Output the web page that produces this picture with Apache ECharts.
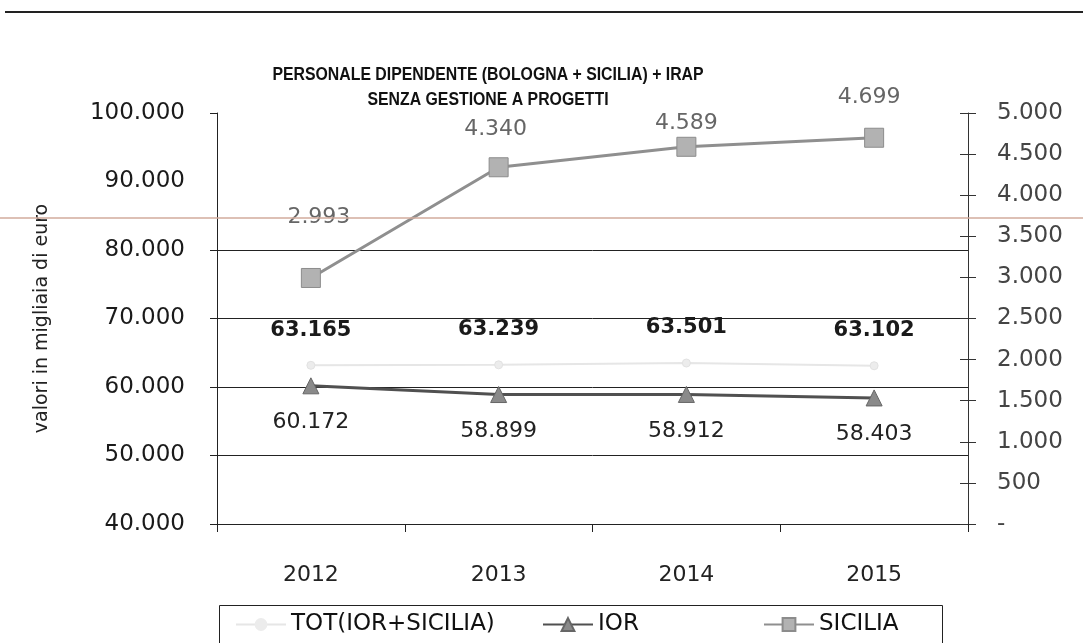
<!DOCTYPE html>
<html>
<head>
<meta charset="utf-8">
<title>Personale dipendente</title>
<script src="https://cdn.jsdelivr.net/npm/echarts@6/dist/echarts.min.js"></script>
<style>
    html, body { margin: 0; padding: 0; background: #fff; }
    #main { width: 1083px; height: 643px; }
</style>
</head>
<body>
<div id="main"></div>
<script>
    // dati
    var years = ['2012', '2013', '2014', '2015'];
    var totValues = [63165, 63239, 63501, 63102];
    var iorValues = [60172, 58899, 58912, 58403];
    var siciliaValues = [2993, 4340, 4589, 4699];
    var leftTicks = [40000, 50000, 60000, 70000, 80000, 100000];

    var numFont = 'DejaVu Sans';

    // separatore migliaia con il punto
    function fmt(v) {
        return String(v).replace(/\B(?=(\d{3})+(?!\d))/g, '.');
    }

    // etichette SICILIA spostate a mano come nell'originale
    var sicOffsets = [[8, -35], [-3, -12], [0, 2], [-5, -14]];
    var siciliaData = siciliaValues.map(function (v, i) {
        return { value: v, label: { offset: sicOffsets[i] } };
    });

    function legendItem(name, left) {
        return {
            data: [name], left: left, top: 608,
            itemWidth: 50, itemHeight: 16,
            textStyle: { fontFamily: numFont, fontSize: 23, color: '#111' }
        };
    }

    var myChart = echarts.init(document.getElementById('main'));
    var option = {
        animation: false,
        backgroundColor: '#fff',
        grid: { left: 217, right: 115, top: 113, bottom: 119 },
        legend: [
            legendItem('TOT(IOR+SICILIA)', 230),
            legendItem('IOR', 537),
            legendItem('SICILIA', 758)
        ],
        xAxis: {
            type: 'category',
            data: years,
            boundaryGap: true,
            axisLine: { lineStyle: { color: '#222', width: 1 } },
            axisTick: { show: true, length: 8, lineStyle: { color: '#222' } },
            axisLabel: { margin: 40, fontFamily: numFont, fontSize: 22, color: '#222' },
            splitLine: { show: false }
        },
        yAxis: [
            {
                type: 'value',
                min: 40000, max: 100000, interval: 10000,
                position: 'left',
                name: 'valori in migliaia di euro',
                nameLocation: 'middle',
                nameGap: 165,
                nameRotate: 90,
                nameTextStyle: { fontFamily: numFont, fontSize: 19, color: '#222' },
                axisLine: { show: true, lineStyle: { color: '#222' } },
                axisTick: { show: true, length: 7, customValues: leftTicks, lineStyle: { color: '#222' } },
                axisLabel: { margin: 32, fontFamily: numFont, fontSize: 23, color: '#1a1a1a', formatter: fmt },
                splitLine: {
                    show: true,
                    lineStyle: { color: ['#222', '#222', '#222', '#222', '#222', 'rgba(0,0,0,0)', '#222'], width: 1 }
                }
            },
            {
                type: 'value',
                min: 0, max: 5000, interval: 500,
                position: 'right',
                axisLine: { show: true, lineStyle: { color: '#333' } },
                axisTick: { show: true, length: 8, lineStyle: { color: '#333' } },
                axisLabel: {
                    margin: 29, fontFamily: numFont, fontSize: 23, color: '#444',
                    formatter: function (v) { return v === 0 ? '-' : fmt(v); }
                },
                splitLine: { show: false }
            },
            {
                // solo per le tacche interne dell'asse destro
                type: 'value',
                min: 0, max: 5000, interval: 500,
                position: 'right',
                axisLine: { show: false },
                axisTick: { show: true, inside: true, length: 8, lineStyle: { color: '#333' } },
                axisLabel: { show: false },
                splitLine: { show: false }
            }
        ],
        series: [
            {
                name: 'TOT(IOR+SICILIA)',
                type: 'line',
                yAxisIndex: 0,
                data: totValues,
                symbol: 'circle',
                symbolSize: 8,
                itemStyle: { color: '#ececec', borderColor: '#e2e2e2' },
                lineStyle: { color: '#e6e6e6', width: 2 },
                label: {
                    show: true, position: 'top', distance: 20,
                    fontFamily: numFont, fontWeight: 'bold', fontSize: 21, color: '#1a1a1a',
                    formatter: function (p) { return fmt(p.value); }
                },
                z: 2
            },
            {
                name: 'IOR',
                type: 'line',
                yAxisIndex: 0,
                data: iorValues,
                symbol: 'triangle',
                symbolSize: 16,
                itemStyle: { color: '#8a8a8a', borderColor: '#666', borderWidth: 1 },
                lineStyle: { color: '#505050', width: 3 },
                label: {
                    show: true, position: 'bottom', distance: 17,
                    fontFamily: numFont, fontSize: 22, color: '#222',
                    formatter: function (p) { return fmt(p.value); }
                },
                z: 3
            },
            {
                name: 'SICILIA',
                type: 'line',
                yAxisIndex: 1,
                data: siciliaData,
                symbol: 'rect',
                symbolSize: 19,
                itemStyle: { color: '#b2b2b2', borderColor: '#8c8c8c', borderWidth: 1 },
                lineStyle: { color: '#8f8f8f', width: 3 },
                label: {
                    show: true, position: 'top', distance: 5,
                    fontFamily: numFont, fontSize: 22, color: '#666',
                    formatter: function (p) { return fmt(p.value); }
                },
                z: 3
            }
        ],
        graphic: [
            // titolo (carattere stretto)
            {
                type: 'text', x: 488, y: 75, scaleX: 0.88, silent: true,
                style: {
                    text: 'PERSONALE DIPENDENTE (BOLOGNA + SICILIA) + IRAP',
                    fontFamily: 'Liberation Sans', fontWeight: 'bold', fontSize: 18,
                    fill: '#111', align: 'center', verticalAlign: 'middle'
                }
            },
            {
                type: 'text', x: 488, y: 100, scaleX: 0.88, silent: true,
                style: {
                    text: 'SENZA GESTIONE A PROGETTI',
                    fontFamily: 'Liberation Sans', fontWeight: 'bold', fontSize: 18,
                    fill: '#111', align: 'center', verticalAlign: 'middle'
                }
            },
            // riquadro della legenda
            {
                type: 'rect', left: 217, top: 603, silent: true,
                shape: { width: 723, height: 60 },
                style: { fill: 'none', stroke: '#222', lineWidth: 1 }
            },
            // righe del foglio scansionato
            {
                type: 'line', silent: true,
                shape: { x1: 5, y1: 12, x2: 1083, y2: 12 },
                style: { stroke: '#222', lineWidth: 2 }
            },
            {
                type: 'line', silent: true, z: 100,
                shape: { x1: 0, y1: 218, x2: 1083, y2: 218 },
                style: { stroke: '#d2ab9c', lineWidth: 1.5 }
            }
        ]
    };
    myChart.setOption(option);
</script>
</body>
</html>
